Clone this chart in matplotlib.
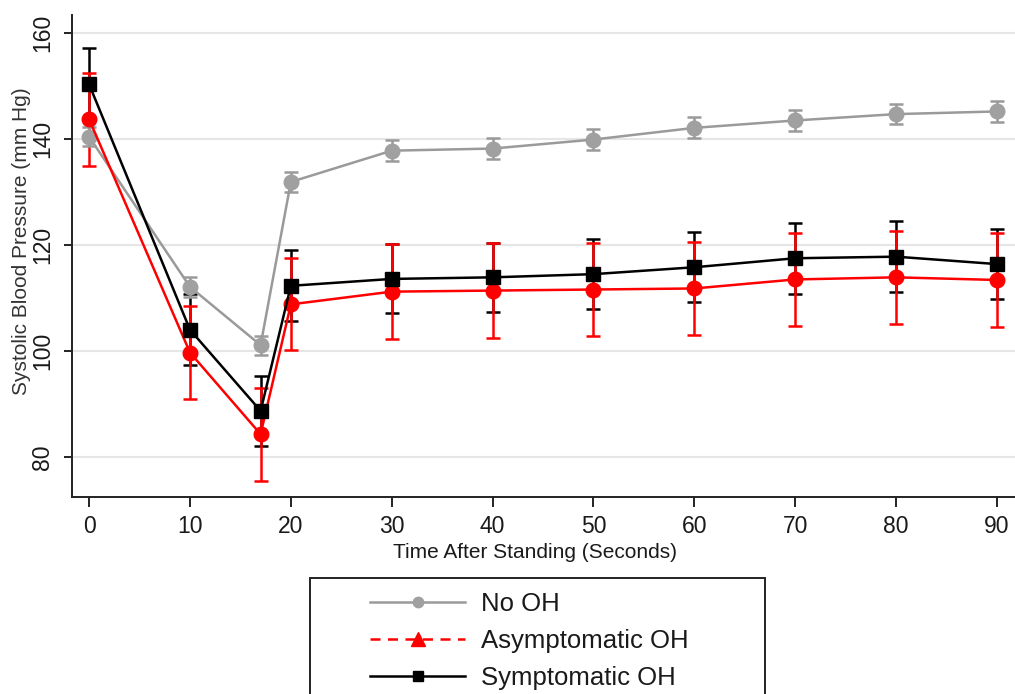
import matplotlib
matplotlib.use("Agg")
import matplotlib.pyplot as plt
from matplotlib.lines import Line2D
from matplotlib.patches import Rectangle

plt.rcParams['font.family'] = ['Liberation Sans', 'DejaVu Sans']

# ---- data ----
time_s = [0, 10, 17, 20, 30, 40, 50, 60, 70, 80, 90]
xtick_vals = [0, 10, 20, 30, 40, 50, 60, 70, 80, 90]
ytick_vals = [80, 100, 120, 140, 160]

no_oh_mean = [140.4, 112.1, 101.1, 131.9, 137.8, 138.2, 139.9, 142.1, 143.5, 144.7, 145.2]
no_oh_err = [1.8, 1.9, 1.8, 1.9, 2.0, 2.0, 2.0, 2.0, 2.0, 1.9, 2.0]

asym_mean = [143.7, 99.7, 84.3, 108.8, 111.2, 111.4, 111.6, 111.8, 113.5, 113.9, 113.4]
asym_err = [8.8, 8.8, 8.8, 8.7, 9.0, 8.9, 8.8, 8.8, 8.8, 8.8, 8.8]

sym_mean = [150.3, 104.0, 88.7, 112.3, 113.6, 113.9, 114.5, 115.8, 117.5, 117.8, 116.4]
sym_err = [6.8, 6.7, 6.6, 6.7, 6.5, 6.5, 6.6, 6.6, 6.7, 6.7, 6.6]

labels = ["No OH", "Asymptomatic OH", "Symptomatic OH"]

GRAY = "#9a9a9a"
RED = "#ff0000"
BLACK = "#000000"
TXT = "#1a1a1a"

W, H = 1015, 694
fig = plt.figure(figsize=(W / 100, H / 100), dpi=100)
ax = fig.add_axes([72 / W, 1 - 497 / H, (W - 72) / W, 482 / H])

LW = 1.8
# error bars first
ax.errorbar(time_s, sym_mean, yerr=sym_err, fmt='none', ecolor=BLACK,
            elinewidth=LW, capsize=4.8, capthick=LW, zorder=2)
ax.errorbar(time_s, asym_mean, yerr=asym_err, fmt='none', ecolor=RED,
            elinewidth=LW, capsize=4.8, capthick=LW, zorder=2.1)
ax.errorbar(time_s, no_oh_mean, yerr=no_oh_err, fmt='none', ecolor=GRAY,
            elinewidth=LW, capsize=4.8, capthick=LW, zorder=2.2)

# connected lines
ax.plot(time_s, no_oh_mean, color=GRAY, lw=LW, marker='o', ms=10.5,
        mfc="#a0a0a0", mec="#a0a0a0", zorder=3)
ax.plot(time_s, asym_mean, color=RED, lw=LW, marker='o', ms=10.5,
        mfc=RED, mec=RED, zorder=3.1)
ax.plot(time_s, sym_mean, color=BLACK, lw=LW, marker='s', ms=10.5,
        mfc=BLACK, mec=BLACK, zorder=3.2)

ax.set_xlim(-1.7, 91.8)
ax.set_ylim(72.45, 163.4)
ax.set_xticks(xtick_vals)
ax.set_yticks(ytick_vals)
ax.grid(axis='y', color='#e6e6e6', lw=1.5, zorder=0)
ax.set_axisbelow(True)

for s in ['top', 'right']:
    ax.spines[s].set_visible(False)
for s in ['left', 'bottom']:
    ax.spines[s].set_color('#222222')
    ax.spines[s].set_linewidth(1.4)

ax.tick_params(axis='x', direction='out', length=7, width=1.4, color='#222222',
               labelsize=16.5, labelcolor=TXT, pad=6)
ax.tick_params(axis='y', direction='out', length=6, width=1.4, color='#222222',
               labelsize=16.5, labelcolor=TXT, pad=7)
for lab in ax.get_yticklabels():
    lab.set_rotation(90)
    lab.set_va('center')

ax.set_xlabel("Time After Standing (Seconds)", fontsize=15, color=TXT)
ax.xaxis.set_label_coords(0.491, -0.095)
ax.set_ylabel("Systolic Blood Pressure (mm Hg)", fontsize=15, color='#333333')
ax.yaxis.set_label_coords(-0.044, 0.531)

# legend box (extends past bottom edge)
fig.patches.append(Rectangle((310 / W, -0.1), 455 / W, 0.1 + (1 - 578 / H),
                             transform=fig.transFigure, fill=False,
                             ec='#222222', lw=1.4))
handles = [
    Line2D([], [], color=GRAY, lw=LW, marker='o', ms=7.5, mfc="#a0a0a0", mec="#a0a0a0"),
    Line2D([], [], color=RED, lw=LW, ls=(0, (4, 3)), marker='^', ms=9.5, mfc=RED, mec=RED),
    Line2D([], [], color=BLACK, lw=LW, marker='s', ms=7.5, mfc=BLACK, mec=BLACK),
]
fig.legend(handles, labels, loc='upper left', bbox_to_anchor=(370 / W, 1 - 592 / H),
           frameon=False, fontsize=18.5, handlelength=3.7, handletextpad=0.62,
           labelspacing=0.5, borderpad=0, borderaxespad=0, labelcolor=TXT)

fig.savefig("out.png", dpi=100)
